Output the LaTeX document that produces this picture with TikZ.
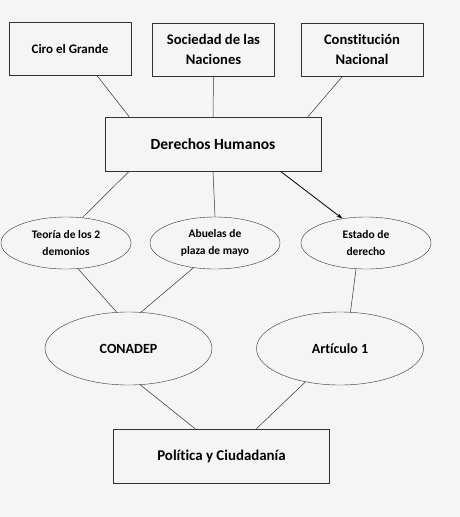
\documentclass[tikz,border=0pt]{standalone}
\usepackage{fontspec}
\setmainfont{Carlito}[Ligatures=CommonOff]
\usetikzlibrary{shapes.geometric, arrows.meta}
\definecolor{papel}{RGB}{245,245,245}
\definecolor{trazo}{RGB}{50,50,50}
\begin{document}
\begin{tikzpicture}[x=1pt, y=-1pt,
		caja/.style={draw=trazo, fill=papel, rectangle, inner sep=0pt, minimum width=122pt, minimum height=53pt, align=center, font=\bfseries\fontsize{14.6}{20}\selectfont},
		cajagrande/.style={caja, minimum width=216pt, minimum height=54pt, font=\bfseries\fontsize{14.9}{18}\selectfont},
		elipse/.style={draw=trazo, fill=papel, ellipse, inner sep=0pt, minimum width=130pt, minimum height=52pt, align=center, font=\bfseries\fontsize{11.5}{16.5}\selectfont},
		elipsegrande/.style={elipse, minimum width=167pt, minimum height=73pt, font=\bfseries\fontsize{14}{16}\selectfont},
		linea/.style={draw=trazo, line width=0.5pt}]
		\fill[papel] (0,0) rectangle (460,517);
		\useasboundingbox (0,0) rectangle (460,517);
		
		% fila de arriba
		\node[caja, font=\bfseries\fontsize{13}{20}\selectfont] (ciro) at (70,48.5) {Ciro el Grande};
		\node[caja] (sociedad) at (213.5,49.5) {Sociedad de las\\Naciones};
		\node[caja] (constitucion) at (362,49.5) {Constitución\\Nacional};
		
		\node[cajagrande, font=\bfseries\fontsize{15.5}{18}\selectfont] (derechos) at (213,144) {Derechos Humanos};
		
		% elipses
		\node[elipse] (teoria) at (66,243) {Teoría de los 2\\demonios};
		\node[elipse] (abuelas) at (215,243) {Abuelas de\\plaza de mayo};
		\node[elipse] (estado) at (366,243) {Estado de\\derecho};
		
		\node[elipsegrande] (conadep) at (128.5,348.5) {CONADEP};
		\node[elipsegrande] (articulo) at (340,348.5) {Artículo 1};
		
		\node[cajagrande] (politica) at (221.5,456) {Política y Ciudadanía};
		
		% conexiones
		\draw[linea] (ciro.-45) -- (derechos.162);
		\draw[linea] (sociedad.south) -- (derechos.north);
		\draw[linea] (constitucion.234) -- (derechos.16);
		
		\draw[linea] (derechos.198) -- (teoria.57);
		\draw[linea] (derechos.south) -- (abuelas.north);
		\draw[linea, line width=0.8pt, draw=black, -{Stealth[length=6pt, width=4pt]}] (derechos.-22) -- (estado.134);
		
		\draw[linea] (teoria.-65) -- (conadep.108);
		\draw[linea] (abuelas.-131) -- (conadep.71);
		\draw[linea] (estado.-111) -- (articulo.74);
		
		\draw[linea] (conadep.-72) -- (politica.134);
		\draw[linea] (articulo.-136) -- (politica.38);
	\end{tikzpicture}
\end{document}
